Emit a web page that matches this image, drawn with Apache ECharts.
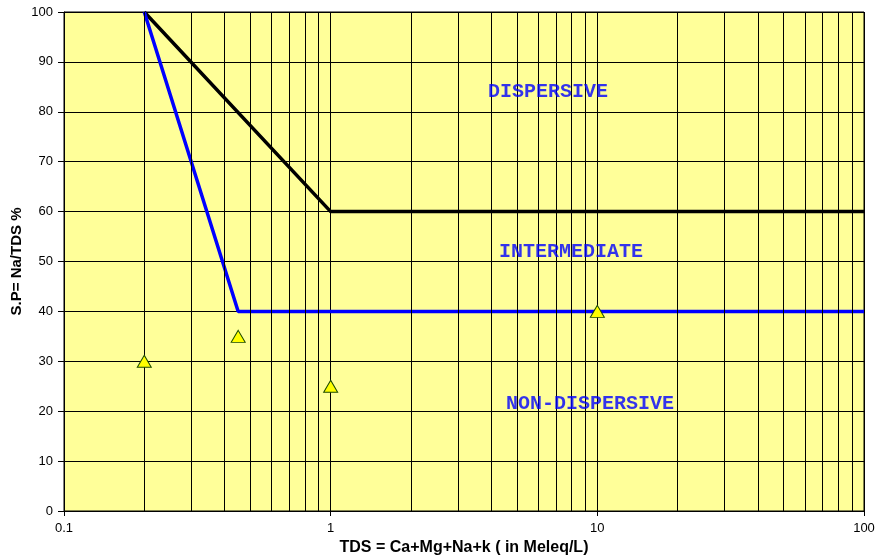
<!DOCTYPE html>
<html><head><meta charset="utf-8">
<script src="https://cdn.jsdelivr.net/npm/echarts@6/dist/echarts.min.js"></script>
<style>html,body{margin:0;padding:0;background:#fff}#c{width:880px;height:559px}</style>
</head><body><div id="c"></div>
<script>
const xTickLabels = ['0.1', '1', '10', '100'];
const blackLine = [[0.2, 100], [1, 60], [100, 60]];
const blueLine = [[0.2, 100], [0.45, 40], [100, 40]];
const samples = [[0.2, 30], [0.45, 35], [1, 25], [10, 40]];
const minorX = [0.2,0.3,0.4,0.5,0.6,0.7,0.8,0.9,2,3,4,5,6,7,8,9,20,30,40,50,60,70,80,90];
const zoneLabels = [
  {name: 'DISPERSIVE', value: [6.53, 84.0]},
  {name: 'INTERMEDIATE', value: [7.96, 52.0]},
  {name: 'NON-DISPERSIVE', value: [9.38, 21.5]}
];
const chart = echarts.init(document.getElementById('c'));
chart.setOption({
  animation: false,
  grid: {left: 64, right: 16, top: 12, bottom: 48, outerBoundsMode: 'none', containLabel: false,
    show: true, backgroundColor: '#FFFF99', borderColor: '#000', borderWidth: 1},
  xAxis: {
    type: 'log', logBase: 10, min: 0.1, max: 100,
    name: 'TDS = Ca+Mg+Na+k ( in Meleq/L)', nameLocation: 'middle', nameGap: 29, nameMoveOverlap: false,
    nameTextStyle: {fontFamily: 'Liberation Sans', fontWeight: 'bold', fontSize: 16, color: '#000'},
    axisLine: {show: true, lineStyle: {color: '#000', width: 1}},
    axisTick: {show: true, inside: false, length: 5, lineStyle: {color: '#000'}},
    axisLabel: {fontFamily: 'Liberation Sans', fontSize: 13, color: '#000', margin: 11,
      formatter: function (v) { const i = Math.round(Math.log10(v)) + 1; return xTickLabels[i] !== undefined ? xTickLabels[i] : String(v); }},
    splitLine: {show: true, lineStyle: {color: '#000', width: 1}},
    minorTick: {show: false}, minorSplitLine: {show: false}
  },
  yAxis: {
    type: 'value', min: 0, max: 100, interval: 10,
    name: 'S.P= Na/TDS %', nameLocation: 'middle', nameGap: 40, nameMoveOverlap: false,
    nameTextStyle: {fontFamily: 'Liberation Sans', fontWeight: 'bold', fontSize: 15, color: '#000'},
    axisLine: {show: true, lineStyle: {color: '#000', width: 1}},
    axisTick: {show: true, inside: false, length: 6, lineStyle: {color: '#000'}},
    axisLabel: {fontFamily: 'Liberation Sans', fontSize: 13, color: '#000', margin: 11},
    splitLine: {show: true, lineStyle: {color: '#000', width: 1}}
  },
  series: [
    {type: 'line', data: [], silent: true, markLine: {silent: true, symbol: 'none', label: {show: false},
      lineStyle: {color: '#000', width: 1, type: 'solid'}, emphasis: {disabled: true},
      data: minorX.map(v => ({xAxis: v}))}},
    {type: 'line', data: blackLine, showSymbol: false, lineStyle: {color: '#000', width: 3.5}, z: 3},
    {type: 'line', data: blueLine, showSymbol: false, lineStyle: {color: '#0000FF', width: 3.5}, z: 3},
    {type: 'scatter', data: samples, symbol: 'triangle', symbolSize: [14, 12],
      itemStyle: {color: '#FFFF00', borderColor: '#1a4a00', borderWidth: 1, opacity: 1}, z: 5},
    {type: 'scatter', data: zoneLabels, symbolSize: 0, silent: true, z: 6,
      label: {show: true, position: 'inside', formatter: '{b}', fontFamily: 'Liberation Mono', fontWeight: 'bold', fontSize: 20, color: '#0000FF'}}
  ]
});
</script></body></html>
